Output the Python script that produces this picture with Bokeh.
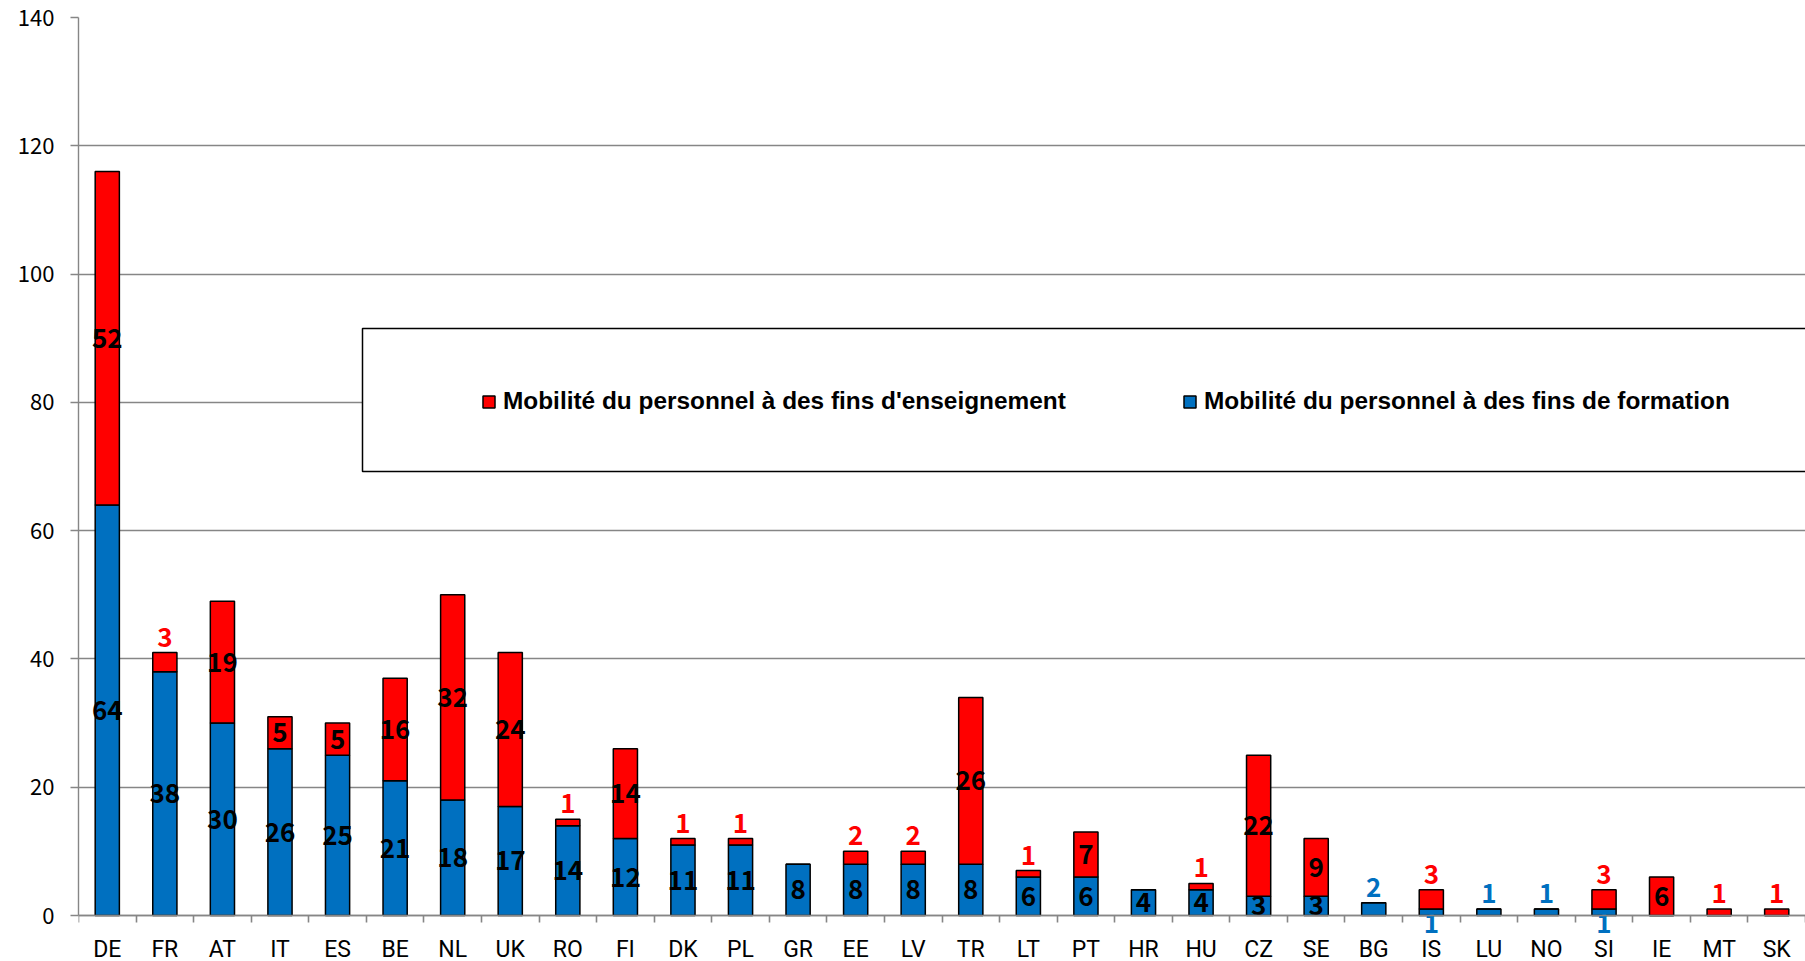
from bokeh.plotting import figure
from bokeh.models import (ColumnDataSource, FixedTicker, Legend, LegendItem,
                          BoxAnnotation, Range1d)
from bokeh.core.properties import value
from bokeh.embed import file_html
from bokeh.resources import INLINE

# ---------------- data ----------------
countries = ["DE", "FR", "AT", "IT", "ES", "BE", "NL", "UK", "RO", "FI",
             "DK", "PL", "GR", "EE", "LV", "TR", "LT", "PT", "HR", "HU",
             "CZ", "SE", "BG", "IS", "LU", "NO", "SI", "IE", "MT", "SK"]
formation = [64, 38, 30, 26, 25, 21, 18, 17, 14, 12,
             11, 11, 8, 8, 8, 8, 6, 6, 4, 4,
             3, 3, 2, 1, 1, 1, 1, 0, 0, 0]
enseignement = [52, 3, 19, 5, 5, 16, 32, 24, 1, 14,
                1, 1, 0, 2, 2, 26, 1, 7, 0, 1,
                22, 9, 0, 3, 0, 0, 3, 6, 1, 1]
y_ticks = [0, 20, 40, 60, 80, 100, 120, 140]
legend_labels = ["Mobilité du personnel à des fins d'enseignement",
                 "Mobilité du personnel à des fins de formation"]

RED = "#FF0000"
BLUE = "#0070C0"
GRID = "#868686"
FONT = "Noto Sans CJK JP"

# layout (pixels)
W, H = 1805, 961
TOP, LEFT = 17, 78
AXIS_Y = 915                     # pixel row of the value 0
BELOW = H - AXIS_Y               # room under the axis, kept inside the frame
Y_MAX = y_ticks[-1]
Y_MIN = -Y_MAX * BELOW / (AXIS_Y - TOP)

n = len(countries)
xs = [i + 0.5 for i in range(n)]

src = ColumnDataSource(dict(x=xs, formation=formation, enseignement=enseignement))

p = figure(width=W, height=H, x_range=Range1d(0, n), y_range=Range1d(Y_MIN, Y_MAX),
           output_backend="svg", toolbar_location=None,
           min_border_left=LEFT, min_border_right=0, min_border_top=TOP, min_border_bottom=0,
           outline_line_color=None, background_fill_color="white", border_fill_color="white")

rs = p.vbar_stack(["formation", "enseignement"], x="x", source=src, width=0.42,
                  fill_color=[BLUE, RED], line_color="black", line_width=1.5)

# ---------------- axes ----------------
p.xaxis.fixed_location = 0
p.xaxis.ticker = FixedTicker(ticks=xs, minor_ticks=list(range(n + 1)))
p.xaxis.major_label_overrides = {x: c for x, c in zip(xs, countries)}
p.xaxis.major_tick_out = 0
p.xaxis.major_tick_in = 0
p.xaxis.minor_tick_out = 7
p.xaxis.minor_tick_in = 0
p.xaxis.minor_tick_line_color = GRID
p.xaxis.minor_tick_line_width = 1.6
p.xaxis.axis_line_color = GRID
p.xaxis.axis_line_width = 1.4
p.xaxis.major_label_standoff = 13
p.xaxis.major_label_text_font = "Roboto"
p.xaxis.major_label_text_font_size = "23px"
p.xaxis.major_label_text_color = "black"

p.yaxis.bounds = (0, Y_MAX)
p.yaxis.ticker = FixedTicker(ticks=y_ticks)
p.yaxis.major_tick_out = 8
p.yaxis.major_tick_in = 0
p.yaxis.minor_tick_out = 0
p.yaxis.minor_tick_in = 0
p.yaxis.major_tick_line_color = GRID
p.yaxis.major_tick_line_width = 1.4
p.yaxis.axis_line_color = GRID
p.yaxis.axis_line_width = 1.4
p.yaxis.major_label_standoff = 16
p.yaxis.major_label_text_font = FONT
p.yaxis.major_label_text_font_size = "22px"
p.yaxis.major_label_text_color = "black"

p.xgrid.visible = False
p.ygrid.ticker = FixedTicker(ticks=y_ticks)
p.ygrid.grid_line_color = GRID
p.ygrid.grid_line_width = 1.4

# ---------------- data labels ----------------
mid = dict(x=[], y=[], t=[])
above = dict(x=[], y=[], t=[], c=[])
below = dict(x=[], y=[], t=[], c=[])
for x, f, e in zip(xs, formation, enseignement):
    if e >= 5:
        mid["x"].append(x); mid["y"].append(f + e / 2); mid["t"].append(str(e))
    elif e > 0:
        above["x"].append(x); above["y"].append(f + e); above["t"].append(str(e)); above["c"].append(RED)
    if f >= 3:
        mid["x"].append(x); mid["y"].append(f / 2); mid["t"].append(str(f))
    elif f > 0:
        if e == 0:
            above["x"].append(x); above["y"].append(f); above["t"].append(str(f)); above["c"].append(BLUE)
        else:
            below["x"].append(x); below["y"].append(0); below["t"].append(str(f)); below["c"].append(BLUE)

lab_kw = dict(text_font=value(FONT), text_font_size="26px", text_font_style="bold",
              text_align="center")
p.text(x="x", y="y", text="t", source=ColumnDataSource(mid), text_color="black",
       text_baseline="middle", **lab_kw)
p.text(x="x", y="y", text="t", source=ColumnDataSource(above), text_color="c",
       text_baseline="bottom", y_offset=-6, **lab_kw)
p.text(x="x", y="y", text="t", source=ColumnDataSource(below), text_color="c",
       text_baseline="top", y_offset=-2, **lab_kw)

# ---------------- legend ----------------
box = BoxAnnotation(left=284, right=3000, bottom=BELOW + 444, top=BELOW + 587,
                    left_units="screen", right_units="screen",
                    bottom_units="screen", top_units="screen",
                    fill_color="white", fill_alpha=1.0,
                    line_color="black", line_alpha=1.0, line_width=1.5, level="annotation")
p.add_layout(box)

legend = Legend(items=[LegendItem(label=legend_labels[0], renderers=[rs[1]]),
                       LegendItem(label=legend_labels[1], renderers=[rs[0]])],
                orientation="horizontal", location=(403, BELOW + 500),
                padding=0, margin=0, spacing=0,
                glyph_width=15, glyph_height=15, label_standoff=7, label_width=679,
                label_text_font="Liberation Sans", label_text_font_size="24.4px",
                label_text_font_style="bold", label_text_color="black",
                border_line_color=None, background_fill_alpha=0.0)
p.add_layout(legend, "center")

open("out.html", "w").write(file_html(p, INLINE))
